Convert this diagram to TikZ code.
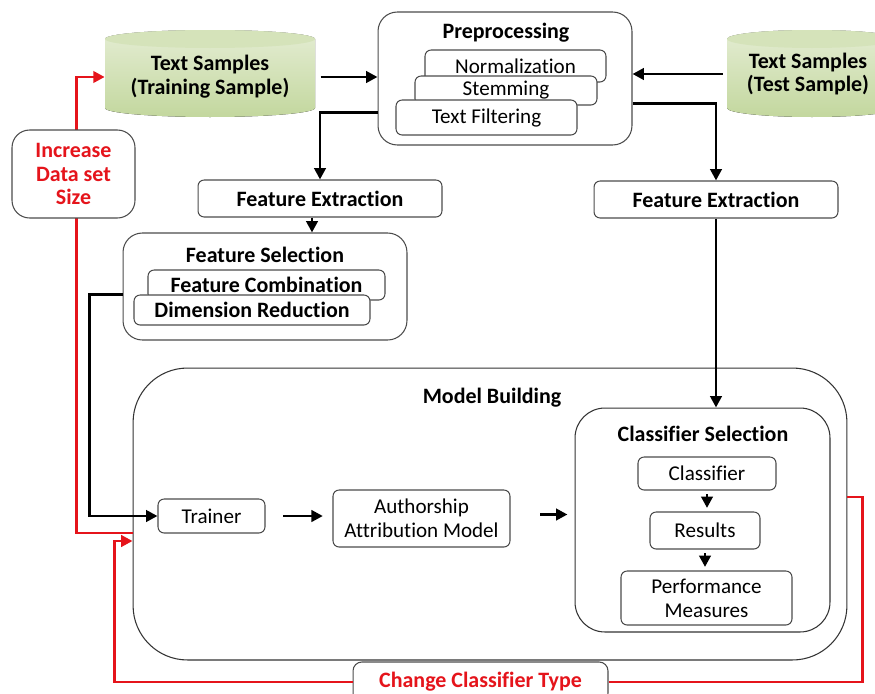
\documentclass[tikz,border=0pt]{standalone}
\usepackage{fontspec}
\setmainfont{Carlito}[Ligatures=NoCommon]
\usetikzlibrary{arrows.meta,calc}
\definecolor{drumlight}{HTML}{E4EDD3}
\definecolor{drumdark}{HTML}{C3D79E}
\definecolor{drumtop}{HTML}{D5E3BA}
\definecolor{alarm}{HTML}{E5141B}
\begin{document}
\begin{tikzpicture}[x=0.02cm,y=-0.02cm,
  font=\fontsize{12}{13.5}\selectfont,
  box/.style={draw=black!70,line width=0.6pt,fill=white,rounded corners=3.5pt,align=center,inner sep=2pt},
  group/.style={box,rounded corners=11pt},
  heading/.style={font=\fontsize{12.5}{13.5}\selectfont\bfseries},
  flow/.style={line width=1.6pt,-{Triangle[length=6.5pt,width=6.5pt]}},
  feedback/.style={flow,draw=alarm},
  drumtext/.style={align=center,font=\fontsize{12.5}{13.5}\selectfont\bfseries,minimum height=1.74cm}]
\useasboundingbox (0,0) rectangle (875,693);
\clip (0,0) rectangle (875,693);
% data stores
\foreach \cx/\hw in {210/105,812/85}{
  \fill[top color=drumlight,bottom color=drumdark] (\cx-\hw,39) -- (\cx-\hw,108)
    arc[start angle=180,end angle=0,x radius=\hw,y radius=9] -- (\cx+\hw,39)
    arc[start angle=360,end angle=180,x radius=\hw,y radius=9] -- cycle;
  \fill[drumtop] (\cx,39) ellipse[x radius=\hw,y radius=9];
}
\node[drumtext,minimum width=4.2cm] (train) at (210,77) {Text Samples\\(Training Sample)};
\node[drumtext,minimum width=3.4cm] (test) at (808,74) {Text Samples\\(Test Sample)};
% preprocessing
\node[group,minimum width=5.08cm,minimum height=2.66cm] (pre) at (505,78.5) {};
\node[heading] (pretitle) at (506,33) {Preprocessing};
\node[box,minimum width=3.62cm,minimum height=0.64cm] (norm) at (515.5,66) {Normalization};
\node[box,minimum width=3.64cm,minimum height=0.58cm] (stem) at (506,90.5) {Stemming};
\node[box,minimum width=3.62cm,minimum height=0.7cm] (filt) at (486.5,117.5) {Text Filtering};
% feature extraction
\node[box,heading,minimum width=4.88cm,minimum height=0.74cm] (fe1) at (320,198.5) {Feature Extraction};
\node[box,heading,minimum width=4.88cm,minimum height=0.74cm] (fe2) at (716,199.5) {Feature Extraction};
% feature selection
\node[group,minimum width=5.68cm,minimum height=2.14cm] (fsel) at (265,286.5) {};
\node[heading] (fseltitle) at (265,255) {Feature Selection};
\node[box,heading,minimum width=4.74cm,minimum height=0.6cm] (fcomb) at (266.5,285) {Feature Combination};
\node[box,heading,minimum width=4.72cm,minimum height=0.6cm] (dimred) at (252,310) {Dimension Reduction};
% model building
\node[group,draw=black!80,rounded corners=31pt,minimum width=14.28cm,minimum height=5.84cm] (mb) at (490,514) {};
\node[heading] (mbtitle) at (492,398) {Model Building};
\node[group,draw=black!80,rounded corners=17pt,minimum width=5.1cm,minimum height=4.48cm] (csel) at (702.5,520) {};
\node[heading] (cseltitle) at (703,434) {Classifier Selection};
\node[box,minimum width=2.76cm,minimum height=0.66cm] (clf) at (707,473.5) {Classifier};
\node[box,minimum width=2.2cm,minimum height=0.74cm] (res) at (705,530.5) {Results};
\node[box,minimum width=3.42cm,minimum height=1.08cm] (perf) at (706.5,598) {Performance\\Measures};
\node[box,minimum width=2.14cm,minimum height=0.68cm] (trainer) at (211.5,516) {Trainer};
\node[box,minimum width=3.54cm,minimum height=1.14cm] (aam) at (421.5,518.5) {Authorship\\Attribution Model};
% feedback loops
\draw[feedback] ($(mb.west)+(0,19)$) -- ++(-56,0) |- (train.west);
\node[box,heading,text=alarm,rounded corners=10pt,minimum width=2.46cm,minimum height=1.76cm] (incr) at (73.5,174) {Increase\\Data set\\Size};
\node[box,heading,text=alarm,rounded corners=5pt,minimum width=5.1cm,minimum height=0.8cm] (change) at (480.5,682) {Change Classifier Type};
\draw[feedback,-] ($(mb.east)+(0,-17)$) -- ++(15,0) |- (change.east);
\draw[feedback] (change.west) -| ($(mb.west)+(-18,27)$) -- ($(mb.west)+(0,27)$);
% main flow
\draw[flow,shorten <=3pt] (train.east) -- (train.east -| pre.west);
\draw[flow] (test.west) -- (test.west -| pre.east);
\draw[flow] ($(pre.west)+(0,34)$) -| (fe1.north);
\draw[flow] ($(pre.east)+(0,25)$) -| (fe2.north);
\coordinate (fe1s) at ($(fe1.south)+(-8,0)$);
\draw[flow] (fe1s) -- (fe1s |- fsel.north);
\draw[flow] ($(fsel.west)+(0,8)$) -- ++(-33,0) |- (trainer.west);
\draw[flow] (fe2.south) -- (fe2.south |- csel.north);
\draw[flow,shorten <=10pt,shorten >=5.5pt] (trainer.east) -- (trainer.east -| aam.west);
\draw[flow,shorten <=17pt,shorten >=4pt] ($(aam.east)+(0,-4)$) -- ($(aam.east -| csel.west)+(0,-4)$);
\draw[flow,shorten <=2pt,shorten >=2pt] (clf.south) -- (clf.south |- res.north);
\draw[flow,shorten <=2pt,shorten >=2pt] (res.south) -- (res.south |- perf.north);
\end{tikzpicture}
\end{document}
